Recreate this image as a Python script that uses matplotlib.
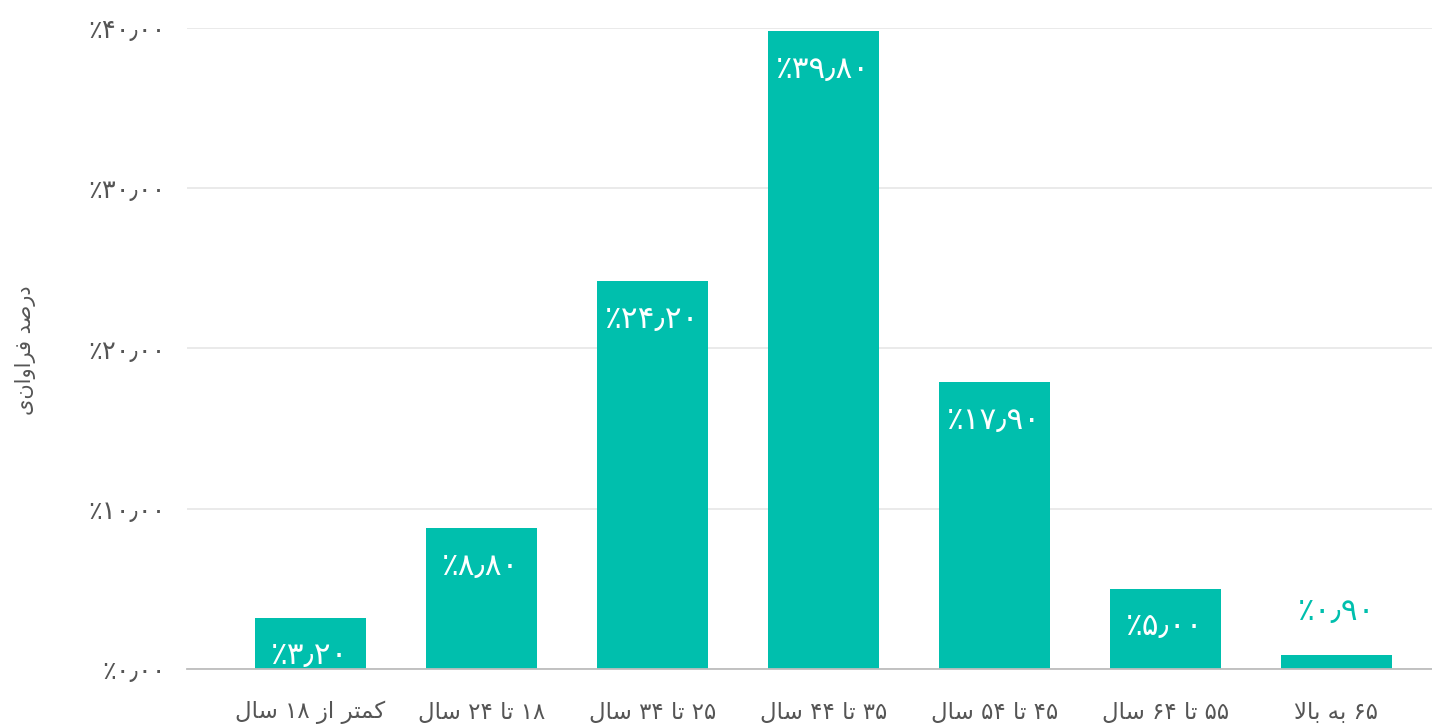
import matplotlib
matplotlib.use("Agg")
import matplotlib.pyplot as plt

# گروه‌های سنی و درصد فراوانی
categories = ["کمتر از ۱۸ سال", "۱۸ تا ۲۴ سال", "۲۵ تا ۳۴ سال", "۳۵ تا ۴۴ سال",
              "۴۵ تا ۵۴ سال", "۵۵ تا ۶۴ سال", "۶۵ به بالا"]
values = [3.2, 8.8, 24.2, 39.8, 17.9, 5.0, 0.9]
y_ticks = [0, 10, 20, 30, 40]
y_label = "درصد فراوانی"

BAR_COLOR = "#00BFAD"
TEXT_COLOR = "#555555"

# matplotlib does no Arabic shaping, so map letters to presentation forms
# (isolated, final, initial, medial); two-form letters never join forward
FORMS = {
    "ا": ("\uFE8D", "\uFE8E"),
    "ب": ("\uFE8F", "\uFE90", "\uFE91", "\uFE92"),
    "ت": ("\uFE95", "\uFE96", "\uFE97", "\uFE98"),
    "د": ("\uFEA9", "\uFEAA"),
    "ر": ("\uFEAD", "\uFEAE"),
    "ز": ("\uFEAF", "\uFEB0"),
    "س": ("\uFEB1", "\uFEB2", "\uFEB3", "\uFEB4"),
    "ص": ("\uFEB9", "\uFEBA", "\uFEBB", "\uFEBC"),
    "ف": ("\uFED1", "\uFED2", "\uFED3", "\uFED4"),
    "ل": ("\uFEDD", "\uFEDE", "\uFEDF", "\uFEE0"),
    "م": ("\uFEE1", "\uFEE2", "\uFEE3", "\uFEE4"),
    "ه": ("\uFEE9", "\uFEEA", "\uFEEB", "\uFEEC"),
    "و": ("\uFEED", "\uFEEE"),
    "ک": ("\uFB8E", "\uFB8F", "\uFB90", "\uFB91"),
    "ی": ("\uFBFC", "\uFBFD", "\uFBFE", "\uFBFF"),
    "لا": ("\uFEFB", "\uFEFC"),
}


def shape_word(word):
    # lam-alef ligature first
    chars = []
    i = 0
    while i < len(word):
        if word[i:i + 2] == "لا":
            chars.append("لا")
            i += 2
        else:
            chars.append(word[i])
            i += 1
    out = []
    for k, c in enumerate(chars):
        if c not in FORMS:
            out.append(c)
            continue
        prev = chars[k - 1] if k > 0 else None
        nxt = chars[k + 1] if k + 1 < len(chars) else None
        join_prev = prev in FORMS and len(FORMS[prev]) == 4
        join_next = len(FORMS[c]) == 4 and nxt in FORMS
        f = FORMS[c]
        if join_prev and join_next:
            out.append(f[3])
        elif join_prev:
            out.append(f[1])
        elif join_next:
            out.append(f[2])
        else:
            out.append(f[0])
    return "".join(reversed(out))


def rtl(text):
    words = []
    for w in text.split(" "):
        if all("\u06F0" <= ch <= "\u06F9" for ch in w):
            words.append(w)
        else:
            words.append(shape_word(w))
    return " ".join(reversed(words))


def fa_pct(v):
    s = f"{v:.2f}".replace(".", "٫")
    s = s.translate(str.maketrans("0123456789", "۰۱۲۳۴۵۶۷۸۹"))
    return "٪" + s


plt.rcParams["font.family"] = ["DejaVu Sans"]

fig = plt.figure(figsize=(14.32, 7.24), dpi=100)
ax = fig.add_axes([187 / 1432, 1 - 669 / 724, 1 - 187 / 1432, (669 - 28) / 724])

x = list(range(len(values)))
bars = ax.bar(x, values, width=0.65, color=BAR_COLOR, zorder=3)

for xi, v in zip(x, values):
    if v > 2:
        ax.annotate(fa_pct(v), (xi, v), xytext=(0, -17), textcoords="offset points",
                    ha="center", va="top", color="white", fontsize=22.5)
    else:
        ax.annotate(fa_pct(v), (xi, v), xytext=(0, 31), textcoords="offset points",
                    ha="center", va="center", color=BAR_COLOR, fontsize=22.5)

ax.set_xlim(-0.72, 6.56)
ax.set_ylim(0, 40)
ax.set_yticks(y_ticks)
ax.set_yticklabels([fa_pct(t) for t in y_ticks], color=TEXT_COLOR, fontsize=18.5)
ax.set_xticks(x)
ax.set_xticklabels([rtl(c) for c in categories], color=TEXT_COLOR, fontsize=16.5)
ax.tick_params(axis="y", length=0, pad=15)
ax.tick_params(axis="x", length=0, pad=23)

ax.grid(axis="y", color="#e6e6e6", linewidth=1.2, zorder=0)
for side in ["top", "right", "left"]:
    ax.spines[side].set_visible(False)
ax.spines["bottom"].set_color("#bdbdbd")
ax.spines["bottom"].set_linewidth(1.3)
ax.spines["bottom"].set_zorder(4)

fig.text(25 / 1432, 1 - 350 / 724, rtl(y_label), rotation=90, ha="center", va="center",
         color=TEXT_COLOR, fontsize=15)

fig.savefig("out.png", dpi=100)
